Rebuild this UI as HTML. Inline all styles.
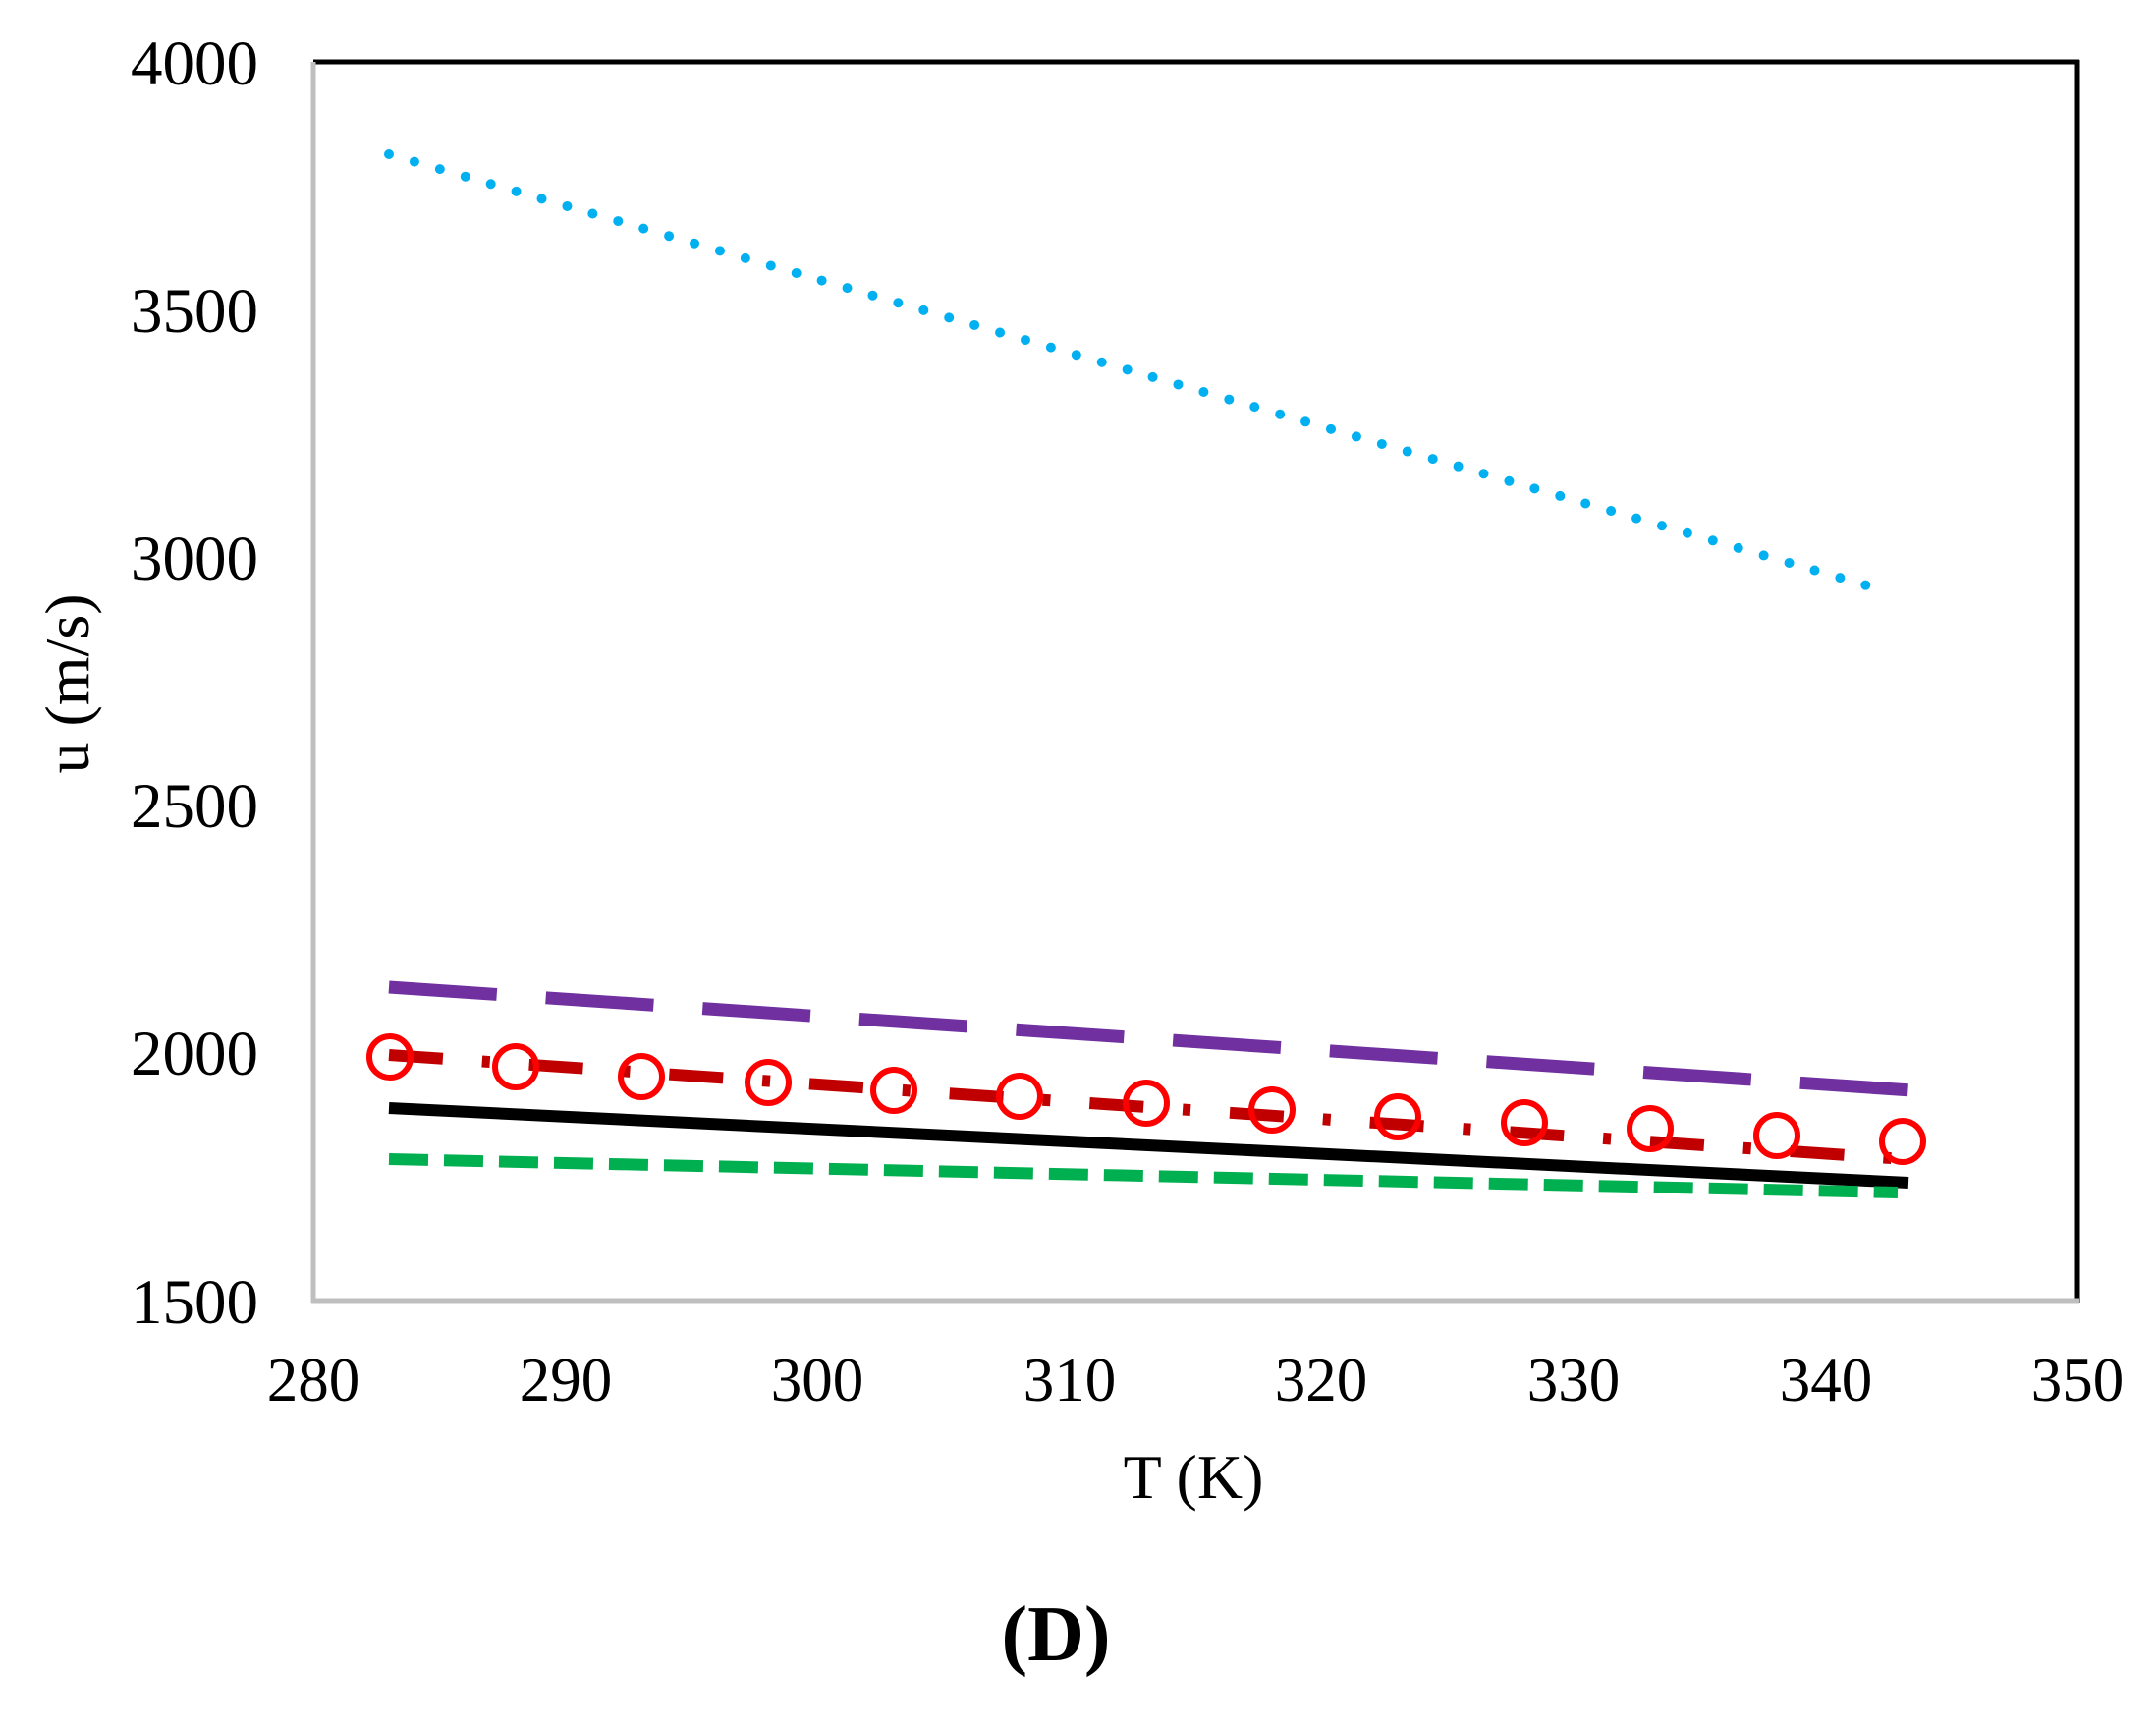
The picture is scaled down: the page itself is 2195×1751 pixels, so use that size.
<!DOCTYPE html>
<html><head><meta charset="utf-8"><style>html,body{margin:0;padding:0;background:#fff}</style></head>
<body>
<svg width="2195" height="1746" viewBox="0 0 2195 1746" xmlns="http://www.w3.org/2000/svg" font-family="Liberation Serif, serif">
<rect width="2195" height="1746" fill="#fff"/>
<line x1="319" y1="63" x2="2117" y2="63" stroke="#000" stroke-width="5"/>
<line x1="2115" y1="61" x2="2115" y2="1326" stroke="#000" stroke-width="5"/>
<line x1="319" y1="63" x2="319" y2="1326" stroke="#bfbfbf" stroke-width="5"/>
<line x1="317" y1="1324" x2="2117" y2="1324" stroke="#bfbfbf" stroke-width="5"/>
<g font-size="65" text-anchor="end" fill="#000">
<text x="263" y="86">4000</text>
<text x="263" y="338">3500</text>
<text x="263" y="590">3000</text>
<text x="263" y="842">2500</text>
<text x="263" y="1094">2000</text>
<text x="263" y="1347">1500</text>
</g>
<g font-size="63" text-anchor="middle" fill="#000">
<text x="319" y="1426">280</text>
<text x="576" y="1426">290</text>
<text x="832" y="1426">300</text>
<text x="1089" y="1426">310</text>
<text x="1345" y="1426">320</text>
<text x="1602" y="1426">330</text>
<text x="1859" y="1426">340</text>
<text x="2115" y="1426">350</text>
</g>
<text x="1215" y="1525" font-size="64" text-anchor="middle">T (K)</text>
<text transform="translate(90,696) rotate(-90)" font-size="64" text-anchor="middle">u (m/s)</text>
<text x="1075" y="1690" font-size="80" font-weight="bold" text-anchor="middle">(D)</text>
<line x1="396" y1="157" x2="1921" y2="602" stroke="#00b0f0" stroke-width="10" stroke-linecap="round" stroke-dasharray="0 27"/>
<line x1="396" y1="1005" x2="1946" y2="1110" stroke="#7030a0" stroke-width="13" stroke-dasharray="110 50"/>
<line x1="396" y1="1128" x2="1943" y2="1204" stroke="#000" stroke-width="12"/>
<line x1="396" y1="1180" x2="1932" y2="1214" stroke="#00b050" stroke-width="12" stroke-dasharray="40 16"/>
<line x1="396" y1="1074" x2="1939" y2="1180" stroke="#c00000" stroke-width="12" stroke-dasharray="55 40 8 40"/>
<g fill="none" stroke="#ff0000" stroke-width="6">
<circle cx="397" cy="1076" r="21"/>
<circle cx="525" cy="1086" r="21"/>
<circle cx="653" cy="1096" r="21"/>
<circle cx="782" cy="1102" r="21"/>
<circle cx="910" cy="1110" r="21"/>
<circle cx="1038" cy="1116" r="21"/>
<circle cx="1167" cy="1123" r="21"/>
<circle cx="1295" cy="1130" r="21"/>
<circle cx="1423" cy="1137" r="21"/>
<circle cx="1552" cy="1143" r="21"/>
<circle cx="1680" cy="1149" r="21"/>
<circle cx="1809" cy="1156" r="21"/>
<circle cx="1937" cy="1162" r="21"/>
</g>
</svg>
</body></html>
